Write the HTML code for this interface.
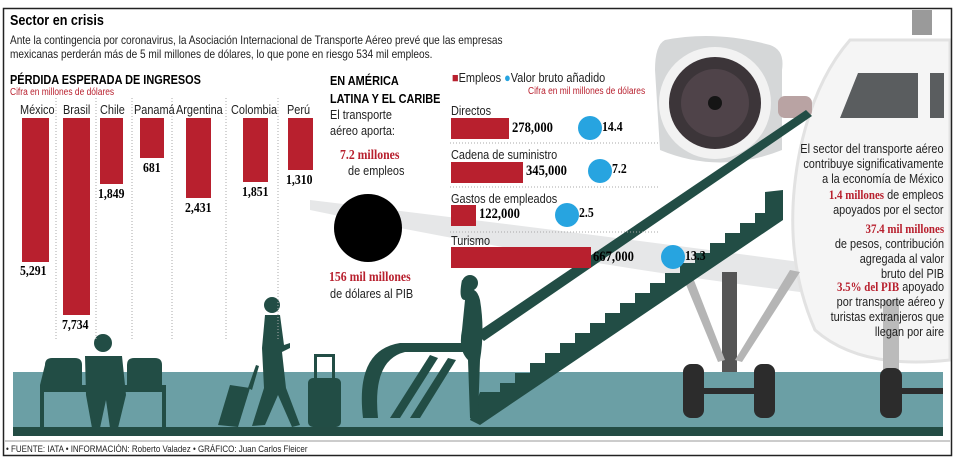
<!DOCTYPE html>
<html><head><meta charset="utf-8"><style>
body{margin:0;width:958px;height:464px;background:#fff;overflow:hidden;position:relative;font-family:"Liberation Sans",sans-serif;}
.a{position:absolute;white-space:nowrap;transform:scaleX(.84);transform-origin:0 0;}
.r{transform-origin:100% 0;}
.t{font-size:12px;color:#222;}
.s{font-family:"Liberation Serif",serif;font-weight:bold;}
.red{color:#b8202e;}
.bar{position:absolute;background:#b8202e;}
.dot{position:absolute;background:#27a4e0;border-radius:50%;}
</style></head><body>
<svg width="958" height="464" style="position:absolute;left:0;top:0">
<!-- wing -->
<path d="M310 200 Q560 230 800 262 L800 292 Q560 262 310 210 Z" fill="#e6e7e8"/>
<!-- plane body -->
<path d="M850 40 L950 40 L950 360 Q860 370 815 330 Q780 250 800 150 Q815 80 850 40 Z" fill="#f5f5f5" stroke="#e2e2e2" stroke-width="3"/>
<path d="M858 73 L918 73 L918 118 L840 118 Z" fill="#5a5d5f"/>
<rect x="930" y="73" width="14" height="45" fill="#5a5d5f"/>
<rect x="912" y="10" width="20" height="25" fill="#9a9a9a"/>
<!-- engine -->
<path d="M665 40 Q715 30 770 45 Q785 50 782 70 L782 150 Q720 175 660 150 L655 70 Q655 45 665 40 Z" fill="#d5d7d8"/>
<circle cx="715" cy="103" r="56" fill="#f2f2f2"/>
<circle cx="715" cy="103" r="46" fill="#3c3539"/>
<circle cx="715" cy="103" r="34" fill="#4f4349"/>
<circle cx="715" cy="103" r="7" fill="#151515"/>
<rect x="778" y="96" width="34" height="22" rx="7" fill="#b9a3a3"/>
<!-- landing gear -->
<path d="M722 272 L737 272 L737 400 L722 400 Z" fill="#555"/>
<path d="M680 270 L690 270 L725 360 L718 362 Z" fill="#b5b5b5"/>
<path d="M790 270 L800 272 L742 362 L735 360 Z" fill="#b5b5b5"/>
<rect x="883" y="300" width="16" height="80" fill="#bbb"/>
<!-- floor -->
<rect x="13" y="372" width="930" height="56" fill="#6b9fa5"/>
<rect x="13" y="427" width="930" height="9" fill="#234c44"/>
<g fill="#2c2c2c">
<rect x="683" y="364" width="21" height="54" rx="8"/><rect x="754" y="364" width="21" height="54" rx="8"/>
<rect x="700" y="388" width="58" height="6"/>
<rect x="880" y="368" width="22" height="50" rx="8"/><rect x="900" y="388" width="43" height="6"/>
</g>
<!-- escalator/stairs -->
<g fill="#224d45">
<path d="M476 333 L806 110 L812 116 L484 341 Z"/>
<path d="M470 420 L480 392 L500 392 L500 383 L515 383 L515 373 L530 373 L530 363 L545 363 L545 353 L560 353 L560 343 L575 343 L575 333 L590 333 L590 323 L605 323 L605 313 L620 313 L620 303 L635 303 L635 293 L650 293 L650 283 L665 283 L665 273 L680 273 L680 263 L695 263 L695 253 L710 253 L710 243 L725 243 L725 233 L740 233 L740 223 L755 223 L755 213 L765 213 L765 192 L783 190 L783 220 L480 425 Z"/>
<path d="M363 418 Q355 350 400 343 L470 343 L470 352 L405 352 Q372 360 378 418 Z"/>
<path d="M390 418 L430 355 L438 358 L400 418 Z"/>
<path d="M410 418 L448 358 L456 360 L420 418 Z"/>
<circle cx="470" cy="283" r="8"/><path d="M462 280 Q458 300 465 300 L462 330 Q458 350 468 360 L470 418 L478 418 L480 360 Q485 330 480 300 Q478 292 474 290 Z"/>
<path d="M45 365 Q45 358 52 358 L75 358 Q82 358 82 365 L82 385 L40 385 L40 430 L44 430 L44 392 L162 392 L162 430 L166 430 L166 385 L127 385 L127 365 Q127 358 134 358 L155 358 Q162 358 162 365 L162 385 L40 385 Z"/>
<circle cx="103" cy="343" r="9"/><path d="M85 356 L122 356 L126 395 L118 428 L110 428 L106 400 L100 428 L92 428 L86 395 Z"/>
<circle cx="272" cy="305" r="8"/><path d="M265 315 L280 315 L284 345 L290 343 L290 348 L282 352 L286 388 L300 425 L292 427 L278 395 L265 425 L252 426 L264 388 L262 348 Z"/>
<path d="M218 425 L230 385 L250 388 L238 427 Z"/><path d="M248 388 L256 365 L259 366 L252 390 Z"/>
<rect x="308" y="378" width="33" height="49" rx="5"/><path d="M314 378 L314 354 L335 354 L335 378 L332 378 L332 357 L317 357 L317 378 Z"/>
</g>
<circle cx="368" cy="228" r="34" fill="#000"/>
<g stroke="#aaa" stroke-dasharray="1 2">
<line x1="56" y1="98" x2="56" y2="340"/><line x1="96" y1="98" x2="96" y2="340"/><line x1="132" y1="98" x2="132" y2="340"/>
<line x1="172" y1="98" x2="172" y2="340"/><line x1="226" y1="98" x2="226" y2="340"/><line x1="278" y1="98" x2="278" y2="340"/>
<line x1="450" y1="143" x2="660" y2="143"/><line x1="450" y1="187" x2="660" y2="187"/><line x1="450" y1="232" x2="660" y2="232"/>
</g>
<line x1="5" y1="441" x2="950" y2="441" stroke="#999"/>
<rect x="3.5" y="8.5" width="948" height="447" fill="none" stroke="#222" stroke-width="1.5"/>
</svg>

<div class="a" style="left:10px;top:12px;font-size:15px;font-weight:bold;">Sector en crisis</div>
<div class="a t" style="left:10px;top:33px;line-height:14px;font-size:12px">Ante la contingencia por coronavirus, la Asociación Internacional de Transporte Aéreo prevé que las empresas<br>mexicanas perderán más de 5 mil millones de dólares, lo que pone en riesgo 534 mil empleos.</div>
<div class="a" style="left:10px;top:72px;font-size:13px;font-weight:bold;">PÉRDIDA ESPERADA DE INGRESOS</div>
<div class="a red" style="left:10px;top:87px;font-size:10px;">Cifra en millones de dólares</div>
<div class="a t" style="left:20px;top:102px;font-size:13px">México</div>
<div class="a t" style="left:63px;top:102px;font-size:13px">Brasil</div>
<div class="a t" style="left:100px;top:102px;font-size:13px">Chile</div>
<div class="a t" style="left:134px;top:102px;font-size:13px">Panamá</div>
<div class="a t" style="left:176px;top:102px;font-size:13px">Argentina</div>
<div class="a t" style="left:231px;top:102px;font-size:13px">Colombia</div>
<div class="a t" style="left:287px;top:102px;font-size:13px">Perú</div>
<div class="bar" style="left:22px;top:118px;width:27px;height:144px"></div>
<div class="bar" style="left:63px;top:118px;width:27px;height:197px"></div>
<div class="bar" style="left:100px;top:118px;width:23px;height:66px"></div>
<div class="bar" style="left:140px;top:118px;width:24px;height:40px"></div>
<div class="bar" style="left:186px;top:118px;width:25px;height:80px"></div>
<div class="bar" style="left:243px;top:118px;width:25px;height:64px"></div>
<div class="bar" style="left:288px;top:118px;width:25px;height:52px"></div>
<div class="a s" style="left:20px;top:264px;font-size:14px">5,291</div>
<div class="a s" style="left:62px;top:318px;font-size:14px">7,734</div>
<div class="a s" style="left:98px;top:187px;font-size:14px">1,849</div>
<div class="a s" style="left:143px;top:161px;font-size:14px">681</div>
<div class="a s" style="left:185px;top:201px;font-size:14px">2,431</div>
<div class="a s" style="left:242px;top:185px;font-size:14px">1,851</div>
<div class="a s" style="left:286px;top:173px;font-size:14px">1,310</div>

<div class="a" style="left:330px;top:72px;font-size:13px;font-weight:bold;line-height:18px">EN AMÉRICA<br>LATINA Y EL CARIBE</div>
<div class="a t" style="left:330px;top:107px;font-size:13px;line-height:16px">El transporte<br>aéreo aporta:</div>
<div class="a s red" style="left:340px;top:148px;font-size:14px">7.2 millones</div>
<div class="a t" style="left:348px;top:163px;font-size:13px">de empleos</div>
<div class="a s red" style="left:329px;top:270px;font-size:14px">156 mil millones</div>
<div class="a t" style="left:330px;top:286px;font-size:13px">de dólares al PIB</div>

<div class="a t" style="left:452px;top:70px;font-size:13px"><span class="red">■</span>Empleos <span style="color:#27a4e0">●</span>Valor bruto añadido</div>
<div class="a red" style="left:528px;top:86px;font-size:10px">Cifra en mil millones de dólares</div>
<div class="a t" style="left:451px;top:103px;font-size:13px">Directos</div>
<div class="bar" style="left:451px;top:118px;width:58px;height:21px"></div>
<div class="a s" style="left:512px;top:120px;font-size:15px">278,000</div>
<div class="dot" style="left:578px;top:116px;width:24px;height:24px"></div>
<div class="a s" style="left:602px;top:120px;font-size:14px">14.4</div>
<div class="a t" style="left:451px;top:147px;font-size:13px">Cadena de suministro</div>
<div class="bar" style="left:451px;top:162px;width:72px;height:21px"></div>
<div class="a s" style="left:526px;top:163px;font-size:15px">345,000</div>
<div class="dot" style="left:588px;top:159px;width:24px;height:24px"></div>
<div class="a s" style="left:612px;top:162px;font-size:14px">7.2</div>
<div class="a t" style="left:451px;top:191px;font-size:13px">Gastos de empleados</div>
<div class="bar" style="left:451px;top:205px;width:25px;height:21px"></div>
<div class="a s" style="left:479px;top:206px;font-size:15px">122,000</div>
<div class="dot" style="left:555px;top:203px;width:24px;height:24px"></div>
<div class="a s" style="left:579px;top:206px;font-size:14px">2.5</div>
<div class="a t" style="left:451px;top:233px;font-size:13px">Turismo</div>
<div class="bar" style="left:451px;top:247px;width:140px;height:21px"></div>
<div class="a s" style="left:593px;top:249px;font-size:15px">667,000</div>
<div class="dot" style="left:661px;top:245px;width:24px;height:24px"></div>
<div class="a s" style="left:685px;top:249px;font-size:14px">13.3</div>

<div class="a t r" style="right:14px;top:141px;font-size:13px;text-align:right;line-height:15px">El sector del transporte aéreo<br>contribuye significativamente<br>a la economía de México</div>
<div class="a t r" style="right:14px;top:187px;font-size:13px;text-align:right;line-height:15px"><span class="s red">1.4 millones</span> de empleos<br>apoyados por el sector</div>
<div class="a t r" style="right:14px;top:221px;font-size:13px;text-align:right;line-height:15px"><span class="s red">37.4 mil millones</span><br>de pesos, contribución<br>agregada al valor<br>bruto del PIB</div>
<div class="a t r" style="right:14px;top:279px;font-size:13px;text-align:right;line-height:15px"><span class="s red">3.5% del PIB</span> apoyado<br>por transporte aéreo y<br>turistas extranjeros que<br>llegan por aire</div>
<div class="a" style="left:6px;top:444px;font-size:9.5px;color:#222">• FUENTE: IATA • INFORMACIÓN: Roberto Valadez • GRÁFICO: Juan Carlos Fleicer</div>
</body></html>
